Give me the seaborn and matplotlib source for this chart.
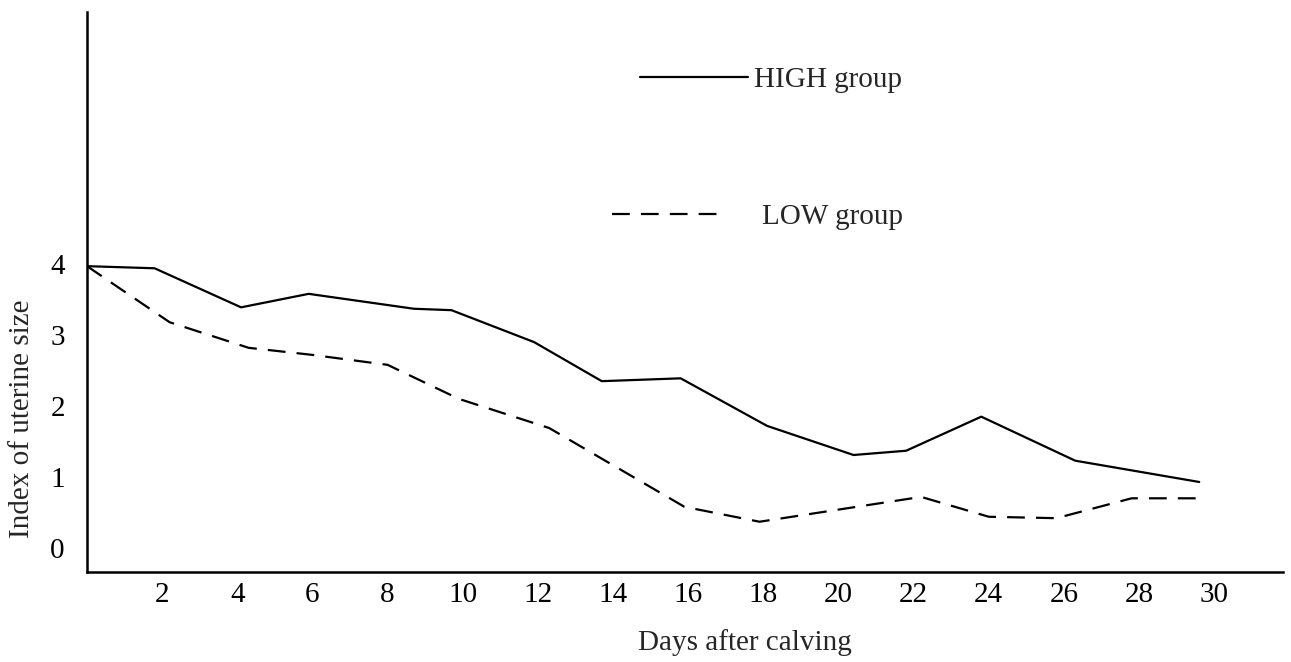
import matplotlib
matplotlib.use("Agg")
import matplotlib.pyplot as plt
import seaborn as sns
import pandas as pd

# Data (days after calving, index of uterine size)
high_days = [0, 1.8, 4.1, 5.9, 8.7, 9.7, 11.9, 13.7, 15.8, 18.1, 20.4, 21.8, 23.8, 26.3, 29.6]
high_vals = [3.97, 3.94, 3.39, 3.58, 3.37, 3.35, 2.90, 2.35, 2.39, 1.72, 1.31, 1.37, 1.85, 1.23, 0.93]
low_days = [0, 2.2, 4.3, 6.0, 8.0, 9.9, 12.3, 15.9, 17.9, 22.2, 24.0, 25.8, 27.8, 29.7]
low_vals = [3.97, 3.18, 2.82, 2.72, 2.58, 2.10, 1.69, 0.58, 0.37, 0.72, 0.44, 0.42, 0.70, 0.70]
x_ticks = [2, 4, 6, 8, 10, 12, 14, 16, 18, 20, 22, 24, 26, 28, 30]
y_ticks = [0, 1, 2, 3, 4]
series_names = ["HIGH group", "LOW group"]
x_title = "Days after calving"
y_title = "Index of uterine size"

sns.set_theme(style="white")
plt.rcParams["font.family"] = ["Liberation Serif", "DejaVu Serif"]

FS = 21
W, H = 1291, 662
fig = plt.figure(figsize=(W / 100, H / 100), dpi=100)
ax = fig.add_axes([87 / W, 1 - 572 / H, (1283 - 87) / W, (572 - 12) / H])

df_high = pd.DataFrame({"day": high_days, "val": high_vals})
df_low = pd.DataFrame({"day": low_days, "val": low_vals})

sns.lineplot(data=df_high, x="day", y="val", ax=ax, color="black", lw=1.6,
             estimator=None, sort=False, errorbar=None, label=series_names[0])
sns.lineplot(data=df_low, x="day", y="val", ax=ax, color="black", lw=1.6,
             estimator=None, sort=False, errorbar=None, label=series_names[1],
             linestyle=(0, (8, 5)))

ax.set_xlim(0, 31.83)
ax.set_ylim(-0.338, 7.55)
ax.set_xticks(x_ticks)
ax.set_xticklabels([str(t) for t in x_ticks])
ax.set_yticks(y_ticks)
ax.set_yticklabels([str(t) for t in y_ticks])
ax.tick_params(axis="x", length=0, pad=7, labelsize=FS, colors="black")
ax.tick_params(axis="y", length=0, pad=16, labelsize=FS, colors="black")
ax.set_xlabel("")
ax.set_ylabel("")

for side in ["top", "right"]:
    ax.spines[side].set_visible(False)
for side in ["left", "bottom"]:
    ax.spines[side].set_color("black")
    ax.spines[side].set_linewidth(1.8)

fig.text(745 / W, 1 - 643 / H, x_title, ha="center", va="center", fontsize=FS)
fig.text(22 / W, 1 - 419 / H, y_title, ha="center", va="center", rotation=90, fontsize=FS)

lines = ax.get_lines()
if ax.get_legend() is not None:
    ax.get_legend().remove()
leg1 = ax.legend(handles=[lines[0]], labels=[series_names[0]], loc="center left",
                 bbox_to_anchor=(640 / W, 1 - 80 / H), bbox_transform=fig.transFigure,
                 frameon=False, fontsize=FS, handlelength=3.7, handletextpad=0.2,
                 borderpad=0, borderaxespad=0)
ax.add_artist(leg1)
ax.legend(handles=[lines[1]], labels=[series_names[1]], loc="center left",
          bbox_to_anchor=(612 / W, 1 - 217 / H), bbox_transform=fig.transFigure,
          frameon=False, fontsize=FS, handlelength=3.6, handletextpad=1.55,
          borderpad=0, borderaxespad=0)

fig.savefig("out.png", dpi=100)
